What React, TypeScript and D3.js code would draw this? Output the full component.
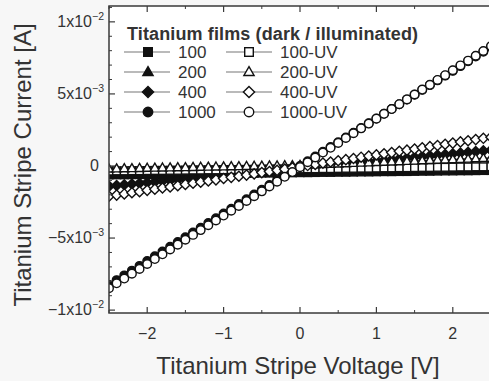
import React from "react";
import * as d3 from "d3";

// Voltage grid [V]
const voltage = [
  -2.5, -2.4, -2.3, -2.2, -2.1, -2.0, -1.9, -1.8, -1.7, -1.6, -1.5, -1.4, -1.3, -1.2, -1.1, -1.0, -0.9,
  -0.8, -0.7, -0.6, -0.5, -0.4, -0.3, -0.2, -0.1, 0.0, 0.1, 0.2, 0.3, 0.4, 0.5, 0.6, 0.7, 0.8, 0.9, 1.0,
  1.1, 1.2, 1.3, 1.4, 1.5, 1.6, 1.7, 1.8, 1.9, 2.0, 2.1, 2.2, 2.3, 2.4, 2.5,
];

// Currents in mA (x1e-3 A)
const cur100 = [
  -0.62, -0.61, -0.61, -0.60, -0.59, -0.59, -0.58, -0.58, -0.57, -0.56, -0.56, -0.55, -0.54, -0.54, -0.53, -0.53, -0.52,
  -0.51, -0.51, -0.50, -0.49, -0.49, -0.48, -0.48, -0.47, -0.46, -0.46, -0.45, -0.44, -0.44, -0.43, -0.43, -0.42, -0.41,
  -0.41, -0.40, -0.39, -0.39, -0.38, -0.38, -0.37, -0.36, -0.36, -0.35, -0.34, -0.34, -0.33, -0.33, -0.32, -0.31, -0.31,
];
const cur200 = [
  -0.38, -0.37, -0.37, -0.37, -0.36, -0.36, -0.36, -0.35, -0.35, -0.35, -0.35, -0.34, -0.34, -0.34, -0.33, -0.33, -0.33,
  -0.32, -0.32, -0.32, -0.32, -0.31, -0.31, -0.31, -0.30, -0.30, -0.30, -0.29, -0.29, -0.29, -0.29, -0.28, -0.28, -0.28,
  -0.27, -0.27, -0.27, -0.26, -0.26, -0.26, -0.26, -0.25, -0.25, -0.25, -0.24, -0.24, -0.24, -0.23, -0.23, -0.23, -0.23,
];
const cur400 = [
  -1.40, -1.35, -1.30, -1.25, -1.20, -1.15, -1.10, -1.05, -1.00, -0.95, -0.90, -0.85, -0.80, -0.75, -0.70, -0.65, -0.60,
  -0.55, -0.50, -0.45, -0.40, -0.35, -0.30, -0.25, -0.20, -0.15, -0.10, -0.05, 0.00, 0.05, 0.10, 0.15, 0.20, 0.25,
  0.30, 0.35, 0.40, 0.45, 0.50, 0.55, 0.60, 0.65, 0.70, 0.75, 0.80, 0.85, 0.90, 0.95, 1.00, 1.05, 1.10,
];
const cur1000 = [
  -8.25, -7.92, -7.59, -7.26, -6.93, -6.60, -6.27, -5.94, -5.61, -5.28, -4.95, -4.62, -4.29, -3.96, -3.63, -3.30, -2.97,
  -2.64, -2.31, -1.98, -1.65, -1.32, -0.99, -0.66, -0.33, 0.00, 0.33, 0.66, 0.99, 1.32, 1.65, 1.98, 2.31, 2.64,
  2.97, 3.30, 3.63, 3.96, 4.29, 4.62, 4.95, 5.28, 5.61, 5.94, 6.27, 6.60, 6.93, 7.26, 7.59, 7.92, 8.25,
];
const cur100UV = [
  -0.35, -0.34, -0.34, -0.33, -0.33, -0.32, -0.31, -0.31, -0.30, -0.30, -0.29, -0.28, -0.28, -0.27, -0.27, -0.26, -0.25,
  -0.25, -0.24, -0.24, -0.23, -0.22, -0.22, -0.21, -0.21, -0.20, -0.19, -0.19, -0.18, -0.18, -0.17, -0.16, -0.16, -0.15,
  -0.15, -0.14, -0.13, -0.13, -0.12, -0.12, -0.11, -0.10, -0.10, -0.09, -0.09, -0.08, -0.07, -0.07, -0.06, -0.06, -0.05,
];
const cur200UV = [
  -0.20, -0.19, -0.18, -0.17, -0.16, -0.15, -0.14, -0.13, -0.12, -0.11, -0.10, -0.09, -0.08, -0.07, -0.06, -0.05, -0.04,
  -0.03, -0.02, -0.01, 0.00, 0.01, 0.02, 0.03, 0.04, 0.05, 0.07, 0.09, 0.11, 0.13, 0.15, 0.17, 0.19, 0.21,
  0.23, 0.25, 0.27, 0.29, 0.31, 0.33, 0.35, 0.37, 0.39, 0.41, 0.43, 0.45, 0.47, 0.49, 0.51, 0.53, 0.55,
];
const cur400UV = [
  -2.10, -2.02, -1.94, -1.86, -1.78, -1.69, -1.61, -1.53, -1.45, -1.37, -1.28, -1.20, -1.12, -1.04, -0.96, -0.87, -0.79,
  -0.71, -0.63, -0.55, -0.46, -0.38, -0.30, -0.22, -0.13, -0.05, 0.03, 0.11, 0.20, 0.28, 0.36, 0.44, 0.52, 0.61,
  0.69, 0.77, 0.85, 0.93, 1.02, 1.10, 1.18, 1.26, 1.34, 1.42, 1.51, 1.59, 1.67, 1.75, 1.83, 1.92, 2.00,
];
const cur1000UV = [
  -8.48, -8.14, -7.81, -7.47, -7.14, -6.80, -6.46, -6.13, -5.79, -5.46, -5.12, -4.78, -4.45, -4.11, -3.78, -3.44, -3.10,
  -2.77, -2.43, -2.10, -1.76, -1.42, -1.09, -0.75, -0.42, -0.08, 0.26, 0.59, 0.93, 1.26, 1.60, 1.94, 2.27, 2.61,
  2.94, 3.28, 3.62, 3.95, 4.29, 4.62, 4.96, 5.30, 5.63, 5.97, 6.30, 6.64, 6.98, 7.31, 7.65, 7.98, 8.32,
];

const darkLabels = ["100", "200", "400", "1000"];
const uvLabels = ["100-UV", "200-UV", "400-UV", "1000-UV"];
const shapes = ["square", "triangle", "diamond", "circle"];
const darkSeries = [cur100, cur200, cur400, cur1000];
const uvSeries = [cur100UV, cur200UV, cur400UV, cur1000UV];

const xMajor = [-2, -1, 0, 1, 2];
const yMajor = [-10, -5, 0, 5, 10];
const yLabelMant = ["\u22121x10", "\u22125x10", "0", "5x10", "1x10"];
const yLabelExp = ["\u22122", "\u22123", "", "\u22123", "\u22122"];
const legendTitle = "Titanium films (dark / illuminated)";
const xTitle = "Titanium Stripe Voltage [V]";
const yTitle = "Titanium Stripe Current [A]";

const W = 489;
const H = 381;
const plot = { left: 109, right: 491, top: 6, bottom: 313 };
const FONT = "Liberation Sans, Arial, sans-serif";
const AX = "#3a3a3a";

function Marker({ shape, x, y, filled, s }: { shape: string; x: number; y: number; filled: boolean; s: number }) {
  const fill = filled ? "#111" : "#fff";
  const stroke = "#111";
  const sw = 1.4;
  if (shape === "square") {
    return <rect x={x - s} y={y - s} width={2 * s} height={2 * s} fill={fill} stroke={stroke} strokeWidth={sw} />;
  }
  if (shape === "triangle") {
    const r = s * 1.25;
    const p = `${x},${y - r} ${x + r * 0.95},${y + r * 0.65} ${x - r * 0.95},${y + r * 0.65}`;
    return <polygon points={p} fill={fill} stroke={stroke} strokeWidth={sw} />;
  }
  if (shape === "diamond") {
    const r = s * 1.3;
    const p = `${x},${y - r} ${x + r},${y} ${x},${y + r} ${x - r},${y}`;
    return <polygon points={p} fill={fill} stroke={stroke} strokeWidth={sw} />;
  }
  return <circle cx={x} cy={y} r={s * 1.1} fill={fill} stroke={stroke} strokeWidth={sw} />;
}

export default function App() {
  const x = d3.scaleLinear().domain([-2.5, 2.5]).range([plot.left, plot.right]);
  const y = d3.scaleLinear().domain([-10.2, 11.1]).range([plot.bottom, plot.top]);
  const line = d3
    .line<number>()
    .x((_, i) => x(voltage[i]))
    .y((d) => y(d));

  const xMinor = d3.range(-2.5, 2.51, 0.5).filter((v) => Math.abs(v - Math.round(v)) > 0.01);
  const yMinor = d3.range(-10, 11.01, 1).filter((v) => Math.abs(v % 5) > 0.01);

  const renderSeries = (vals: number[], shape: string, filled: boolean, key: string) => (
    <g key={key}>
      <path d={line(vals) || ""} fill="none" stroke="#111" strokeWidth={1.2} />
      {vals.map((v, i) => (
        <Marker key={i} shape={shape} x={x(voltage[i])} y={y(v)} filled={filled} s={3.9} />
      ))}
    </g>
  );

  const legendRows = [52, 72, 92, 112];
  const col1 = { x0: 124, x1: 170, mx: 148, tx: 178 };
  const col2 = { x0: 226, x1: 272, mx: 249, tx: 280 };

  return (
    <svg width={W} height={H} style={{ position: "absolute", left: 0, top: 0, background: "#fff" }}>
      <rect x={0} y={0} width={W} height={H} fill="#f7f7f7" />
      <rect x={plot.left} y={plot.top} width={plot.right - plot.left} height={plot.bottom - plot.top} fill="#fff" />
      <defs>
        <clipPath id="clip">
          <rect x={plot.left} y={plot.top} width={plot.right - plot.left} height={plot.bottom - plot.top} />
        </clipPath>
      </defs>
      <g clipPath="url(#clip)">
        {darkSeries.map((s, k) => renderSeries(s, shapes[k], true, "d" + k))}
        {uvSeries.map((s, k) => renderSeries(s, shapes[k], false, "u" + k))}
      </g>
      {/* frame */}
      <rect x={plot.left} y={plot.top} width={plot.right - plot.left} height={plot.bottom - plot.top} fill="none" stroke={AX} strokeWidth={1.5} />
      {/* x ticks */}
      {xMajor.map((v) => (
        <g key={"xm" + v}>
          <line x1={x(v)} x2={x(v)} y1={plot.bottom} y2={plot.bottom - 6} stroke={AX} strokeWidth={1.2} />
          <line x1={x(v)} x2={x(v)} y1={plot.top} y2={plot.top + 6} stroke={AX} strokeWidth={1.2} />
          <text x={x(v)} y={339} textAnchor="middle" fontFamily={FONT} fontSize={16} fill="#333">
            {v < 0 ? "\u2212" + Math.abs(v) : String(v)}
          </text>
        </g>
      ))}
      {xMinor.map((v) => (
        <g key={"xn" + v}>
          <line x1={x(v)} x2={x(v)} y1={plot.bottom} y2={plot.bottom - 3} stroke={AX} strokeWidth={1} />
          <line x1={x(v)} x2={x(v)} y1={plot.top} y2={plot.top + 3} stroke={AX} strokeWidth={1} />
        </g>
      ))}
      {/* y ticks */}
      {yMajor.map((v, i) => (
        <g key={"ym" + v}>
          <line x1={plot.left} x2={plot.left + 6} y1={y(v)} y2={y(v)} stroke={AX} strokeWidth={1.2} />
          <text x={v === 0 ? 99 : 104} y={y(v) + 5} textAnchor="end" fontFamily={FONT} fontSize={16} fill="#333">
            {yLabelMant[i]}
            {yLabelExp[i] && (
              <tspan dy={-7} fontSize={10.5}>
                {yLabelExp[i]}
              </tspan>
            )}
          </text>
        </g>
      ))}
      {yMinor.map((v) => (
        <line key={"yn" + v} x1={plot.left} x2={plot.left + 3} y1={y(v)} y2={y(v)} stroke={AX} strokeWidth={1} />
      ))}
      {/* axis titles */}
      <text x={298} y={374} textAnchor="middle" fontFamily={FONT} fontSize={24} fill="#333">
        {xTitle}
      </text>
      <text transform={`translate(31,165) rotate(-90)`} textAnchor="middle" fontFamily={FONT} fontSize={24} fill="#333">
        {yTitle}
      </text>
      {/* legend */}
      <text x={127} y={40} fontFamily={FONT} fontSize={18} fontWeight="bold" fill="#333" textLength={291}>
        {legendTitle}
      </text>
      {legendRows.map((ry, k) => (
        <g key={"lg" + k}>
          <line x1={col1.x0} x2={col1.x1} y1={ry} y2={ry} stroke="#777" strokeWidth={1.2} />
          <Marker shape={shapes[k]} x={col1.mx} y={ry} filled={true} s={4.3} />
          <text x={col1.tx} y={ry + 6} fontFamily={FONT} fontSize={17} fill="#333">
            {darkLabels[k]}
          </text>
          <line x1={col2.x0} x2={col2.x1} y1={ry} y2={ry} stroke="#777" strokeWidth={1.2} />
          <Marker shape={shapes[k]} x={col2.mx} y={ry} filled={false} s={4.3} />
          <text x={col2.tx} y={ry + 6} fontFamily={FONT} fontSize={17} fill="#333">
            {uvLabels[k]}
          </text>
        </g>
      ))}
    </svg>
  );
}
